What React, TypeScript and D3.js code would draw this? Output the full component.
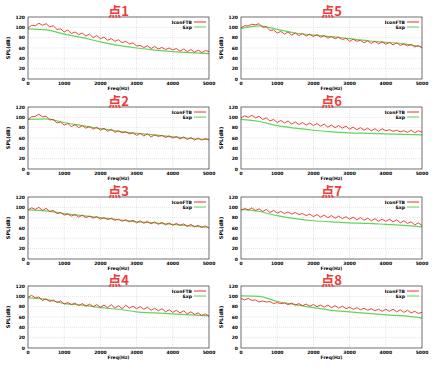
import React, { useEffect, useRef } from "react";
import * as d3 from "d3";

// frequency grids (Hz)
const freqFine = d3.range(0, 5001, 100);
const freqCoarse = d3.range(0, 5001, 500);

const titles = ["点1", "点2", "点3", "点4", "点5", "点6", "点7", "点8"];
const legendNames = ["IconFTB", "Exp"];
const xTicks = [0, 1000, 2000, 3000, 4000, 5000];
const yTicks = [0, 20, 40, 60, 80, 100, 120];

// simulated (red) SPL, every 100 Hz
const sim1 = [99,104,103,108,104,107,101,103,96,97,91, 95,88,91,86,89,83,87,80,84,78, 81,75,78,73,76,70,73,68,70,64, 65,61,64,59,63,58,61,57,60,56, 59,54,58,53,57,52,56,51,55,53];
const sim2 = [96,101,102,106,101,102,95,96,89,91,85, 88,82,86,80,84,79,82,77,81,75, 79,73,77,71,74,70,72,68,70,65, 69,64,68,62,66,63,65,61,64,60, 63,58,62,57,61,56,60,56,59,57];
const sim3 = [95,99,96,100,94,98,92,94,88,90,85, 87,83,86,81,85,80,83,79,82,77, 80,76,79,75,77,73,76,72,75,70, 74,69,73,68,72,67,71,66,70,65, 69,65,68,63,67,62,65,61,64,60];
const sim4 = [98,102,97,99,92,95,90,93,88,91,85, 88,84,87,82,86,81,85,80,84,79, 83,78,84,77,82,76,83,77,81,76, 80,75,79,73,77,72,76,70,74,69, 73,68,72,66,70,65,68,63,66,62];
const sim5 = [99,103,103,106,105,107,100,101,94,95,89, 92,87,91,85,89,84,88,83,87,82, 86,81,84,79,82,78,81,76,79,73, 77,73,75,70,74,69,73,68,72,67, 71,66,70,65,68,64,67,62,65,60];
const sim6 = [99,103,100,104,99,102,96,99,93,96,90, 94,89,93,87,91,86,90,85,89,84, 88,83,87,81,85,80,84,79,83,77, 81,76,80,75,79,74,78,73,78,74, 76,73,75,72,74,71,75,70,74,71];
const sim7 = [94,98,95,99,94,97,92,96,90,94,89, 92,88,91,87,90,86,88,84,87,82, 86,81,85,80,84,79,83,78,82,77, 81,76,80,75,79,74,78,73,77,73, 77,72,76,70,74,69,72,66,70,65];
const sim8 = [96,93,96,92,93,89,91,89,90,86,88, 86,87,84,87,83,86,82,85,81,84, 80,83,79,83,78,82,77,81,76,79, 75,78,74,77,73,76,72,75,71,75, 71,75,70,74,69,73,68,71,67,69];

// measured (green) SPL, every 500 Hz
const exp1 = [97,95,87,80,72,65,60,56,53,51,49];
const exp2 = [96,97,90,84,78,73,69,66,62,59,57];
const exp3 = [95,93,88,84,80,76,72,70,67,64,61];
const exp4 = [97,94,86,83,78,75,70,68,66,64,62];
const exp5 = [98,103,96,89,85,82,78,74,71,68,62];
const exp6 = [96,92,84,79,75,72,70,69,68,67,66];
const exp7 = [96,92,84,78,74,72,70,69,67,65,62];
const exp8 = [101,100,90,84,78,73,70,67,64,62,58];

const sims = [sim1, sim2, sim3, sim4, sim5, sim6, sim7, sim8];
const exps = [exp1, exp2, exp3, exp4, exp5, exp6, exp7, exp8];

export default function App() {
  const ref = useRef<SVGSVGElement>(null);

  useEffect(() => {
    const svg = d3.select(ref.current);
    svg.selectAll("*").remove();

    const colX = [28, 241];
    const rowY = [17, 107, 197, 286];
    const w = 181, h = 62;
    const font = "DejaVu Sans, sans-serif";
    const red = "#ec2f2a", green = "#62d65a";

    titles.forEach((title, i) => {
      const left = colX[Math.floor(i / 4)];
      const top = rowY[i % 4];
      const x = d3.scaleLinear().domain([0, 5000]).range([0, w]);
      const y = d3.scaleLinear().domain([0, 120]).range([h, 0]);

      const g = svg.append("g").attr("transform", `translate(${left},${top})`);

      // grid
      g.append("g").selectAll("line").data(xTicks.slice(1, -1)).join("line")
        .attr("x1", d => x(d)).attr("x2", d => x(d)).attr("y1", 0).attr("y2", h)
        .attr("stroke", "#c8c8c8").attr("stroke-width", 0.5).attr("stroke-dasharray", "1,1");
      g.append("g").selectAll("line").data(yTicks.slice(1, -1)).join("line")
        .attr("y1", d => y(d)).attr("y2", d => y(d)).attr("x1", 0).attr("x2", w)
        .attr("stroke", "#c8c8c8").attr("stroke-width", 0.5).attr("stroke-dasharray", "1,1");

      // lines
      g.append("path")
        .datum(exps[i])
        .attr("fill", "none").attr("stroke", green).attr("stroke-width", 1.2)
        .attr("d", d3.line<number>().x((d, k) => x(freqCoarse[k])).y(d => y(d)).curve(d3.curveMonotoneX));
      g.append("path")
        .datum(sims[i])
        .attr("fill", "none").attr("stroke", red).attr("stroke-width", 0.9)
        .attr("d", d3.line<number>().x((d, k) => x(freqFine[k])).y(d => y(d)));

      // frame
      g.append("rect").attr("width", w).attr("height", h)
        .attr("fill", "none").attr("stroke", "#333").attr("stroke-width", 0.7);

      // ticks
      g.append("g").selectAll("text").data(yTicks).join("text")
        .attr("x", -3).attr("y", d => y(d) + 1.5).attr("text-anchor", "end")
        .attr("font-size", 4.5).attr("font-weight", "bold").attr("font-family", font)
        .text(d => d);
      g.append("g").selectAll("text").data(xTicks).join("text")
        .attr("x", d => x(d)).attr("y", h + 6).attr("text-anchor", "middle")
        .attr("font-size", 4.5).attr("font-weight", "bold").attr("font-family", font)
        .text(d => d);

      // axis labels
      g.append("text").attr("x", w / 2).attr("y", h + 10.5).attr("text-anchor", "middle")
        .attr("font-size", 4.5).attr("font-weight", "bold").attr("font-family", font)
        .text("Freq(Hz)");
      g.append("text").attr("transform", `translate(-18,${h / 2}) rotate(-90)`)
        .attr("text-anchor", "middle")
        .attr("font-size", 5).attr("font-weight", "bold").attr("font-family", font)
        .text("SPL(dB)");

      // legend
      const colors = [red, green];
      legendNames.forEach((name, k) => {
        const ly = 5 + k * 5;
        g.append("text").attr("x", w - 17).attr("y", ly + 1.5).attr("text-anchor", "end")
          .attr("font-size", 4.5).attr("font-weight", "bold").attr("font-family", font)
          .text(name);
        g.append("line").attr("x1", w - 15).attr("x2", w - 3).attr("y1", ly).attr("y2", ly)
          .attr("stroke", colors[k]).attr("stroke-width", 1);
      });

      // title
      svg.append("text").attr("x", left + w / 2).attr("y", top - 1)
        .attr("text-anchor", "middle")
        .attr("font-size", 13).attr("font-weight", "bold")
        .attr("font-family", "Noto Sans CJK SC, sans-serif")
        .attr("fill", "#ee3b3b")
        .text(title);
    });
  }, []);

  return (
    <svg ref={ref} width={437} height={372}
      style={{ position: "absolute", left: 0, top: 0, background: "#fff" }} />
  );
}
